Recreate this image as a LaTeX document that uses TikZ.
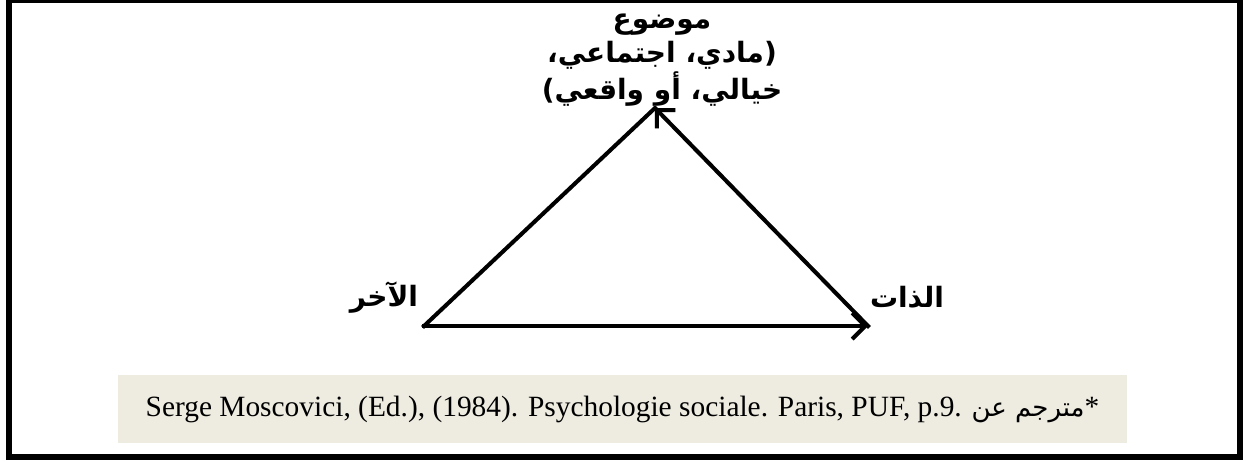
\documentclass[tikz,border=0pt]{standalone}
\usepackage{fontspec}
\setmainfont{Liberation Serif}
\newfontfamily\arabicfont[Script=Arabic]{DejaVu Sans}
\TeXXeTstate=1
\usetikzlibrary{arrows.meta}
\definecolor{noteFill}{RGB}{238,236,225}
\tikzset{
    every node/.append style={align=center},
    frame/.style={draw=black,line width=3.2pt},
    note/.style={rectangle,fill=noteFill,draw=none,inner sep=0pt,
        minimum width=504.5pt,minimum height=34pt,font=\fontsize{14.7}{17}\selectfont},
    side/.style={line width=2pt,line cap=rect},
    arr/.style={side,-{Straight Barb[length=6.5pt,width=13pt,line width=2pt]}},
    shade/.style={draw=black!25,opacity=0.6,shift={(1.5,2.5)}},
    role/.style={font=\arabicfont\bfseries\fontsize{14}{17}\selectfont,inner sep=1pt}
}

\begin{document}
\begin{tikzpicture}[x=0.5pt,y=-0.5pt]
    \useasboundingbox (0,0) rectangle (1246,461);
    \draw[frame] (9,0) rectangle (1240,457);

    \coordinate (apex)  at (655,108);
    \coordinate (left)  at (424,326);
    \coordinate (right) at (868,326);

    \node[role] (obj)   at (662,60)  {\beginR موضوع\endR\\\beginR (مادي، اجتماعي،\endR\\\beginR خيالي، أو واقعي)\endR};
    \node[role] (other) at (384,298) {\beginR الآخر\endR};
    \node[role] (self)  at (907,297) {\beginR الذات\endR};

    \node[note] (src) at (622.5,409) {Serge Moscovici, (Ed.), (1984). Psychologie sociale. Paris, PUF, p.9. {\arabicfont\fontsize{13}{15}\selectfont\beginR مترجم عن\endR}*};

    \draw[side,shade] (left) -- (apex);
    \draw[arr,shade] (right) -- (apex);
    \draw[arr,shade] (left) -- (right);

    \draw[side] (left) -- (apex);
    \draw[arr] (right) -- (apex);
    \draw[arr] (left) -- (right);
\end{tikzpicture}
\end{document}
